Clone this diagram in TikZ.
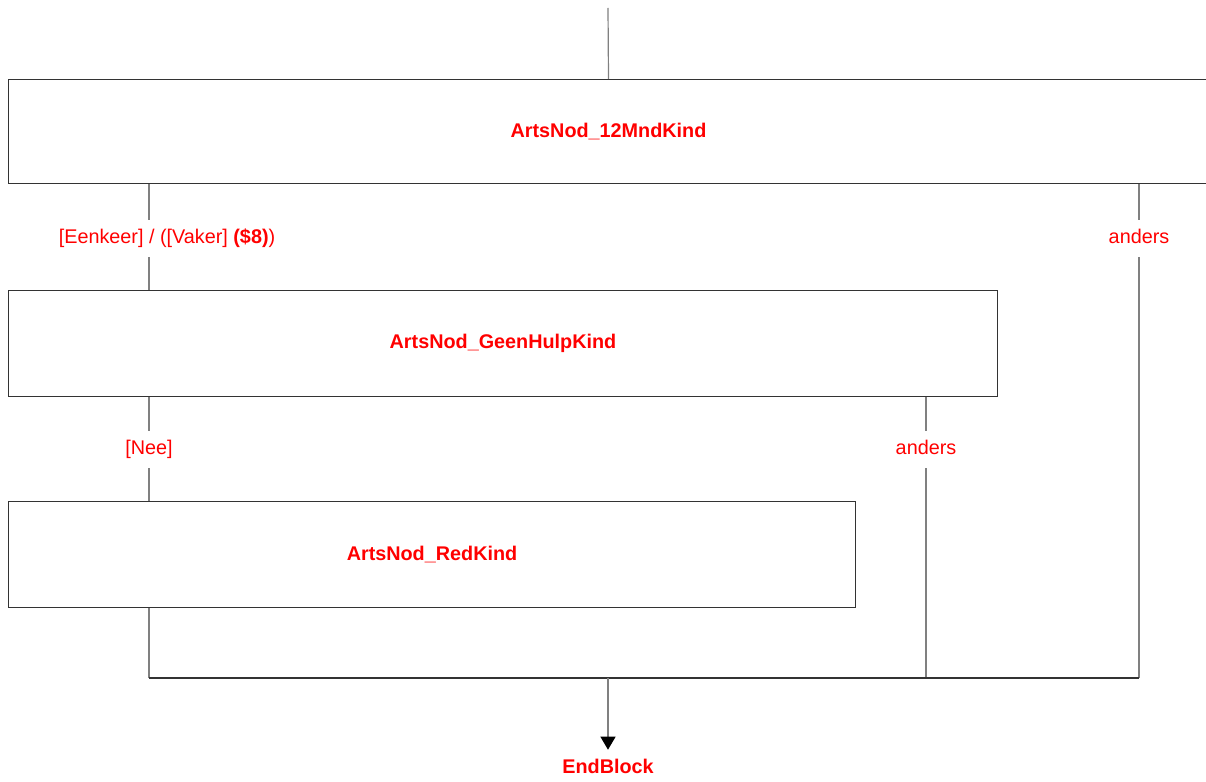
\documentclass[tikz,border=0pt]{standalone}
\usepackage{fontspec}
\setmainfont{Liberation Sans}
\usetikzlibrary{arrows.meta}
\definecolor{boxc}{HTML}{333333}
\definecolor{connc}{HTML}{808080}
\definecolor{txtred}{HTML}{FF0000}
\begin{document}
\begin{tikzpicture}[x=1pt,y=-1pt,
  box/.style={draw=boxc, line width=1pt, anchor=north west, inner sep=0pt,
    text=txtred, font=\fontsize{19.8}{24}\selectfont\bfseries},
  conn/.style={draw=connc, line width=1.2pt},
  base/.style={draw=boxc, line width=1.2pt},
  lab/.style={fill=white, text=txtred, font=\fontsize{19.8}{24}\selectfont,
    inner xsep=2pt, inner ysep=9.5pt, text height=14pt, text depth=4pt}]
\useasboundingbox (0,0) rectangle (1206,781);
\fill[white] (0,0) rectangle (1206,781);
% boxes
\node[box, minimum width=1200pt, minimum height=104pt] (b1) at (8,79) {ArtsNod\_12MndKind};
\node[box, minimum width=989pt, minimum height=106pt] (b2) at (8,290) {\raisebox{-1pt}{ArtsNod\_GeenHulpKind}};
\node[box, minimum width=847pt, minimum height=106pt] (b3) at (8,501) {\raisebox{-1pt}{ArtsNod\_RedKind}};
\node[text=txtred, font=\fontsize{19.8}{24}\selectfont\bfseries, inner sep=0pt,
  text height=14.2pt, text depth=0pt] (end) at (608,766.5) {EndBlock};
% coordinates
\coordinate (top) at (608,8);
\coordinate (xL) at (149,0);
\coordinate (jL) at (149,678);
\coordinate (jM) at (926,678);
\coordinate (jC) at (608,678);
\coordinate (jR) at (1139,678);
% connectors
\draw[conn] (top) -- (b1.north);
\draw[conn] (b1.south -| xL) -- (b2.north -| xL);
\draw[conn] (b1.south -| jR) -- (jR);
\draw[conn] (b2.south -| xL) -- (b3.north -| xL);
\draw[conn] (b2.south -| jM) -- (jM);
\draw[conn] (b3.south -| xL) -- (jL);
\draw[base] (jL) -- (jR);
\draw[conn, shorten >=9.5pt, -{Triangle[length=13pt,width=15pt,fill=black,color=black]}] (jC) -- (end.north);
% labels
\node[lab] (l1) at (167,238.5) {[Eenkeer] / ([Vaker] \textbf{(\$8)})};
\node[lab] (l2) at (1139,238.5) {anders};
\node[lab] (l3) at (149,449.5) {[Nee]};
\node[lab] (l4) at (926,449.5) {anders};
\end{tikzpicture}
\end{document}
